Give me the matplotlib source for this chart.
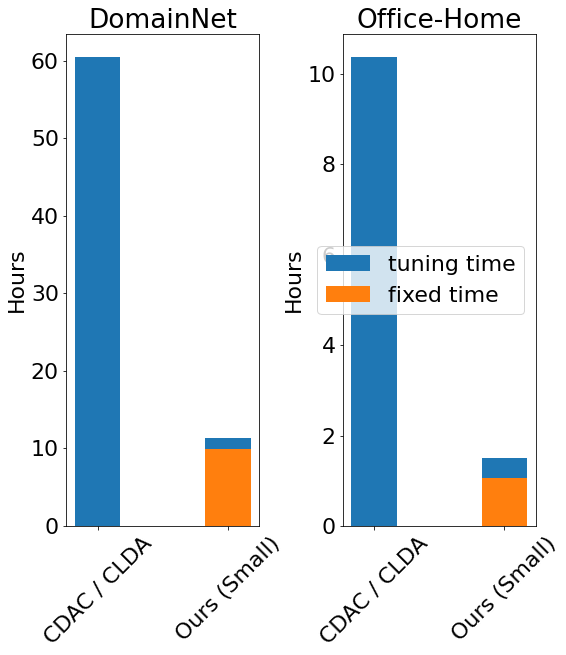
import numpy as np
from matplotlib import pyplot as plt

methods = ['CDAC / CLDA', 'Ours (Small)']
datasets = ['DomainNet', 'Office-Home']
fixed_time = {'DomainNet': [0.0, 9.9], 'Office-Home': [0.0, 1.06]}
tuning_time = {'DomainNet': [60.4, 1.4], 'Office-Home': [10.36, 0.44]}

plt.rcParams['font.size'] = 22

fig, axes = plt.subplots(1, 2, figsize=(566 / 72, 655 / 72), dpi=72)
fig.subplots_adjust(left=0.1166, right=0.947, bottom=0.197, top=0.948, wspace=0.43)

x = np.arange(len(methods))
width = 0.35
for ax, name in zip(axes, datasets):
    fixed = np.array(fixed_time[name])
    tuning = np.array(tuning_time[name])
    ax.bar(x, tuning, width, bottom=fixed, color='#1f77b4', label='tuning time')
    ax.bar(x, fixed, width, color='#ff7f0e', label='fixed time')
    ax.set_title(name, fontsize=26.4)
    ax.set_ylabel('Hours')
    ax.set_xticks(x)
    ax.set_xticklabels(methods, rotation=45)

axes[1].legend(loc='center left', bbox_to_anchor=(-0.13, 0.5), borderaxespad=0)

plt.savefig('out.png', dpi=72)
